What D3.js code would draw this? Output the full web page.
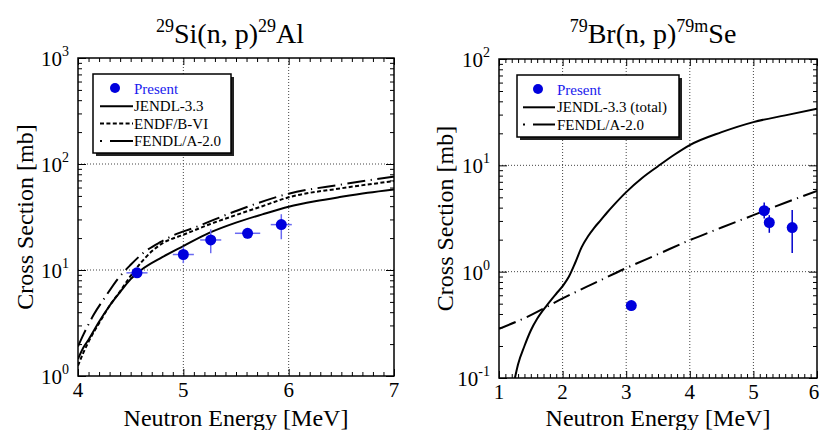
<!DOCTYPE html>
<html>
<head>
<meta charset="utf-8">
<script src="https://cdn.jsdelivr.net/npm/d3@7"></script>
<style>
  body { margin: 0; background: #fff; }
  svg text { font-family: "Liberation Serif", "Times New Roman", serif; }
</style>
</head>
<body>
<svg id="chart" width="820" height="430" font-family="Liberation Serif"></svg>
<script>
// ---- left panel: 29Si(n,p)29Al ----
var siJendlE = [4.0, 4.05, 4.1, 4.2, 4.3, 4.4, 4.5, 4.6, 4.8, 5.0, 5.25, 5.5, 5.75, 6.0, 6.25, 6.5, 6.75, 7.0];
var siJendlY = [1.45, 1.85, 2.2, 3.25, 4.6, 6.2, 8.2, 10.0, 13.2, 16.8, 22.5, 28, 33.5, 39.5, 44.5, 49, 53.5, 57.5];
var siEndfE = [4.0, 4.05, 4.1, 4.2, 4.3, 4.4, 4.5, 4.6, 4.7, 4.8, 5.0, 5.25, 5.5, 5.75, 6.0, 6.5, 7.0];
var siEndfY = [1.25, 1.65, 2.1, 3.15, 4.6, 6.3, 8.8, 11.8, 15, 17.8, 21.5, 27, 33, 40, 48.5, 59, 69];
var siFendlE = [4.0, 4.05, 4.15, 4.25, 4.38, 4.5, 4.62, 4.78, 4.91, 5.1, 5.5, 6.0, 6.5, 7.0];
var siFendlY = [1.9, 2.44, 3.8, 5.4, 8.3, 11.2, 14.5, 18.3, 21.3, 25, 36, 52.5, 64, 76];
var siPtE  = [4.56, 5.0, 5.26, 5.61, 5.93];
var siPtY  = [9.4, 14.0, 19.2, 22.2, 26.8];
var siPtLo = [8.5, 11.6, 14.4, 19.8, 19.5];
var siPtHi = [10.4, 16.6, 24.2, 24.7, 33.6];
var siPtDx = [0.1, 0.1, 0.1, 0.12, 0.1];

// ---- right panel: 79Br(n,p)79mSe ----
var brJendlE = [1.25, 1.3, 1.4, 1.5, 1.6, 1.75, 1.9, 2.0, 2.1, 2.2, 2.3, 2.4, 2.5, 2.6, 2.7, 2.8, 3.0, 3.25, 3.5, 3.75, 4.0, 4.5, 5.0, 5.5, 6.0];
var brJendlY = [0.1, 0.135, 0.2, 0.28, 0.36, 0.48, 0.62, 0.73, 0.9, 1.22, 1.7, 2.15, 2.6, 3.05, 3.6, 4.2, 5.6, 7.6, 9.8, 12.5, 15.5, 20.5, 25.5, 29.5, 34];
var brFendlE = [1.0, 1.5, 2.0, 2.5, 3.0, 3.5, 4.0, 4.5, 5.0, 5.5, 6.0];
var brFendlY = [0.29, 0.39, 0.56, 0.78, 1.08, 1.46, 1.98, 2.6, 3.4, 4.45, 5.74];
var brPtE  = [3.08, 5.17, 5.25, 5.61];
var brPtY  = [0.48, 3.75, 2.9, 2.6];
var brPtLo = [0.43, 3.16, 2.32, 1.5];
var brPtHi = [0.53, 4.47, 3.4, 3.8];
var brPtDx = [0.04, 0.08, 0.07, 0.06];

var svg = d3.select("#chart");
var blue = "#0000dd";
var serif = "Liberation Serif";

function zip(a, b) { return a.map(function(v, i) { return [v, b[i]]; }); }

function panel(o) {
  var x = d3.scaleLinear().domain(o.xDom).range([o.left, o.right]);
  var y = d3.scaleLog().domain(o.yDom).range([o.bottom, o.top]);
  var g = svg.append("g").attr("font-family", serif);

  var clipId = "clip" + o.id;
  svg.append("clipPath").attr("id", clipId).append("rect")
    .attr("x", o.left).attr("y", o.top)
    .attr("width", o.right - o.left).attr("height", o.bottom - o.top);

  // grid
  var xMaj = d3.range(o.xDom[0], o.xDom[1] + 0.001, 1);
  var yMaj = [];
  for (var p = Math.log10(o.yDom[0]); p <= Math.log10(o.yDom[1]); p++) yMaj.push(Math.pow(10, p));
  g.selectAll(".gx").data(xMaj.slice(1, -1)).enter().append("line")
    .attr("x1", x).attr("x2", x).attr("y1", o.top).attr("y2", o.bottom)
    .attr("stroke", "#444").attr("stroke-width", 1).attr("stroke-dasharray", "1,2");
  g.selectAll(".gy").data(yMaj.slice(1, -1)).enter().append("line")
    .attr("y1", y).attr("y2", y).attr("x1", o.left).attr("x2", o.right)
    .attr("stroke", "#444").attr("stroke-width", 1).attr("stroke-dasharray", "1,2");

  // ticks (inside, all four sides)
  var xMin = d3.range(o.xDom[0] * 10, o.xDom[1] * 10 + 0.5).map(function(d) { return d / 10; })
    .filter(function(d) { return Math.abs(d - Math.round(d)) > 0.01; });
  var yMin = [];
  yMaj.slice(0, -1).forEach(function(d) { for (var k = 2; k < 10; k++) yMin.push(d * k); });

  function tickAxis(axisFn, scale, vals, len, tr) {
    var a = g.append("g").attr("transform", tr)
      .call(axisFn(scale).tickValues(vals).tickSize(len).tickFormat(""));
    a.select(".domain").remove();
    a.selectAll("line").attr("stroke", "#000").attr("stroke-width", 1);
  }
  tickAxis(d3.axisBottom, x, xMaj, -7, "translate(0," + o.bottom + ")");
  tickAxis(d3.axisBottom, x, xMin, -4, "translate(0," + o.bottom + ")");
  tickAxis(d3.axisTop, x, xMaj, -7, "translate(0," + o.top + ")");
  tickAxis(d3.axisTop, x, xMin, -4, "translate(0," + o.top + ")");
  tickAxis(d3.axisLeft, y, yMaj, -8, "translate(" + o.left + ",0)");
  tickAxis(d3.axisLeft, y, yMin, -4, "translate(" + o.left + ",0)");
  tickAxis(d3.axisRight, y, yMaj, -8, "translate(" + o.right + ",0)");
  tickAxis(d3.axisRight, y, yMin, -4, "translate(" + o.right + ",0)");

  // x tick labels
  g.selectAll(".xl").data(xMaj).enter().append("text")
    .attr("x", function(d) { return Math.min(x(d), 814); }).attr("y", o.bottom + 21)
    .attr("text-anchor", "middle").attr("font-size", 21).text(function(d) { return d; });
  // y tick labels 10^n
  yMaj.forEach(function(d) {
    var t = g.append("text").attr("x", o.left - 9).attr("y", y(d) + 8)
      .attr("text-anchor", "end").attr("font-size", 21);
    t.append("tspan").text("10");
    t.append("tspan").attr("dy", -10).attr("font-size", 14).text(Math.round(Math.log10(d)));
  });

  // curves
  var line = d3.line().x(function(d) { return x(d[0]); }).y(function(d) { return y(d[1]); })
    .curve(d3.curveMonotoneX);
  var cg = g.append("g").attr("clip-path", "url(#" + clipId + ")");
  o.curves.forEach(function(c) {
    cg.append("path").datum(zip(c.e, c.v)).attr("d", line)
      .attr("fill", "none").attr("stroke", "#000").attr("stroke-width", 2)
      .attr("stroke-dasharray", c.dash || null);
  });

  // data points with error bars
  var pts = o.pts;
  pts.e.forEach(function(e, i) {
    cg.append("line").attr("x1", x(e - pts.dx[i])).attr("x2", x(e + pts.dx[i]))
      .attr("y1", y(pts.y[i])).attr("y2", y(pts.y[i]))
      .attr("stroke", o.errColor).attr("stroke-width", 1.5);
    cg.append("line").attr("x1", x(e)).attr("x2", x(e))
      .attr("y1", y(pts.lo[i])).attr("y2", y(pts.hi[i]))
      .attr("stroke", o.errColor).attr("stroke-width", 1.5);
  });
  cg.selectAll(".pt").data(pts.e).enter().append("circle")
    .attr("cx", function(d) { return x(d); })
    .attr("cy", function(d, i) { return y(pts.y[i]); })
    .attr("r", 5.5).attr("fill", blue);

  // frame
  g.append("rect").attr("x", o.left).attr("y", o.top)
    .attr("width", o.right - o.left).attr("height", o.bottom - o.top)
    .attr("fill", "none").attr("stroke", "#000").attr("stroke-width", 1.5);

  // titles and axis labels
  var tt = g.append("text").attr("x", o.titleX).attr("y", 43)
    .attr("text-anchor", "middle").attr("font-size", 28);
  o.title.forEach(function(s) {
    if (s.sup) tt.append("tspan").attr("dy", -11).attr("font-size", 18).text(s.sup);
    else tt.append("tspan").attr("dy", 11).text(s.t);
  });
  tt.select("tspan").attr("dy", -11);
  g.append("text").attr("x", (o.left + o.right) / 2).attr("y", 426)
    .attr("text-anchor", "middle").attr("font-size", 24).text("Neutron Energy [MeV]");
  g.append("text").attr("transform", "translate(" + o.yLabX + "," + (o.top + o.bottom) / 2 + ") rotate(-90)")
    .attr("text-anchor", "middle").attr("font-size", 24).text("Cross Section [mb]");

  // legend
  var L = o.legend;
  g.append("rect").attr("x", L.x + 3).attr("y", L.y + 3).attr("width", L.w).attr("height", L.h)
    .attr("fill", "#222");
  g.append("rect").attr("x", L.x).attr("y", L.y).attr("width", L.w).attr("height", L.h)
    .attr("fill", "#fff").attr("stroke", "#000").attr("stroke-width", 1.5);
  L.items.forEach(function(it, i) {
    var by = L.y + 20 + i * 17.3;
    if (it.dot) {
      g.append("circle").attr("cx", L.x + L.mx).attr("cy", by - 6).attr("r", 5).attr("fill", blue);
    } else {
      g.append("line").attr("x1", L.x + L.l0).attr("x2", L.x + L.l1).attr("y1", by - 5).attr("y2", by - 5)
        .attr("stroke", "#000").attr("stroke-width", 2).attr("stroke-dasharray", it.dash || null);
    }
    g.append("text").attr("x", L.x + L.tx).attr("y", by).attr("font-size", 15)
      .attr("fill", it.dot ? "#1a1aee" : "#000").text(it.label);
  });
}

var fendlDash = "18,5.5,1.2,5.5";
var endfDash = "4,2.4";

panel({
  id: "si", xDom: [4, 7], yDom: [1, 1000], left: 78, right: 394, top: 58, bottom: 376,
  titleX: 230, yLabX: 33, errColor: "#6a6af2",
  title: [{sup: "29"}, {t: "Si(n, p)"}, {sup: "29"}, {t: "Al"}],
  curves: [
    {e: siJendlE, v: siJendlY},
    {e: siEndfE, v: siEndfY, dash: endfDash},
    {e: siFendlE, v: siFendlY, dash: fendlDash}
  ],
  pts: {e: siPtE, y: siPtY, lo: siPtLo, hi: siPtHi, dx: siPtDx},
  legend: {x: 93, y: 74, w: 138, h: 79, mx: 22, l0: 7, l1: 40, tx: 41,
    items: [
      {dot: true, label: "Present"},
      {label: "JENDL-3.3"},
      {label: "ENDF/B-VI", dash: endfDash},
      {label: "FENDL/A-2.0", dash: "2,8,25,8"}
    ]}
});

panel({
  id: "br", xDom: [1, 6], yDom: [0.1, 100], left: 499, right: 817, top: 59, bottom: 378,
  titleX: 653, yLabX: 453, errColor: "#0000cc",
  title: [{sup: "79"}, {t: "Br(n, p)"}, {sup: "79m"}, {t: "Se"}],
  curves: [
    {e: brJendlE, v: brJendlY},
    {e: brFendlE, v: brFendlY, dash: fendlDash}
  ],
  pts: {e: brPtE, y: brPtY, lo: brPtLo, hi: brPtHi, dx: brPtDx},
  legend: {x: 517, y: 75, w: 162, h: 62, mx: 21, l0: 6, l1: 38, tx: 40,
    items: [
      {dot: true, label: "Present"},
      {label: "JENDL-3.3 (total)"},
      {label: "FENDL/A-2.0", dash: "2,8,22,8"}
    ]}
});
</script>
</body>
</html>
